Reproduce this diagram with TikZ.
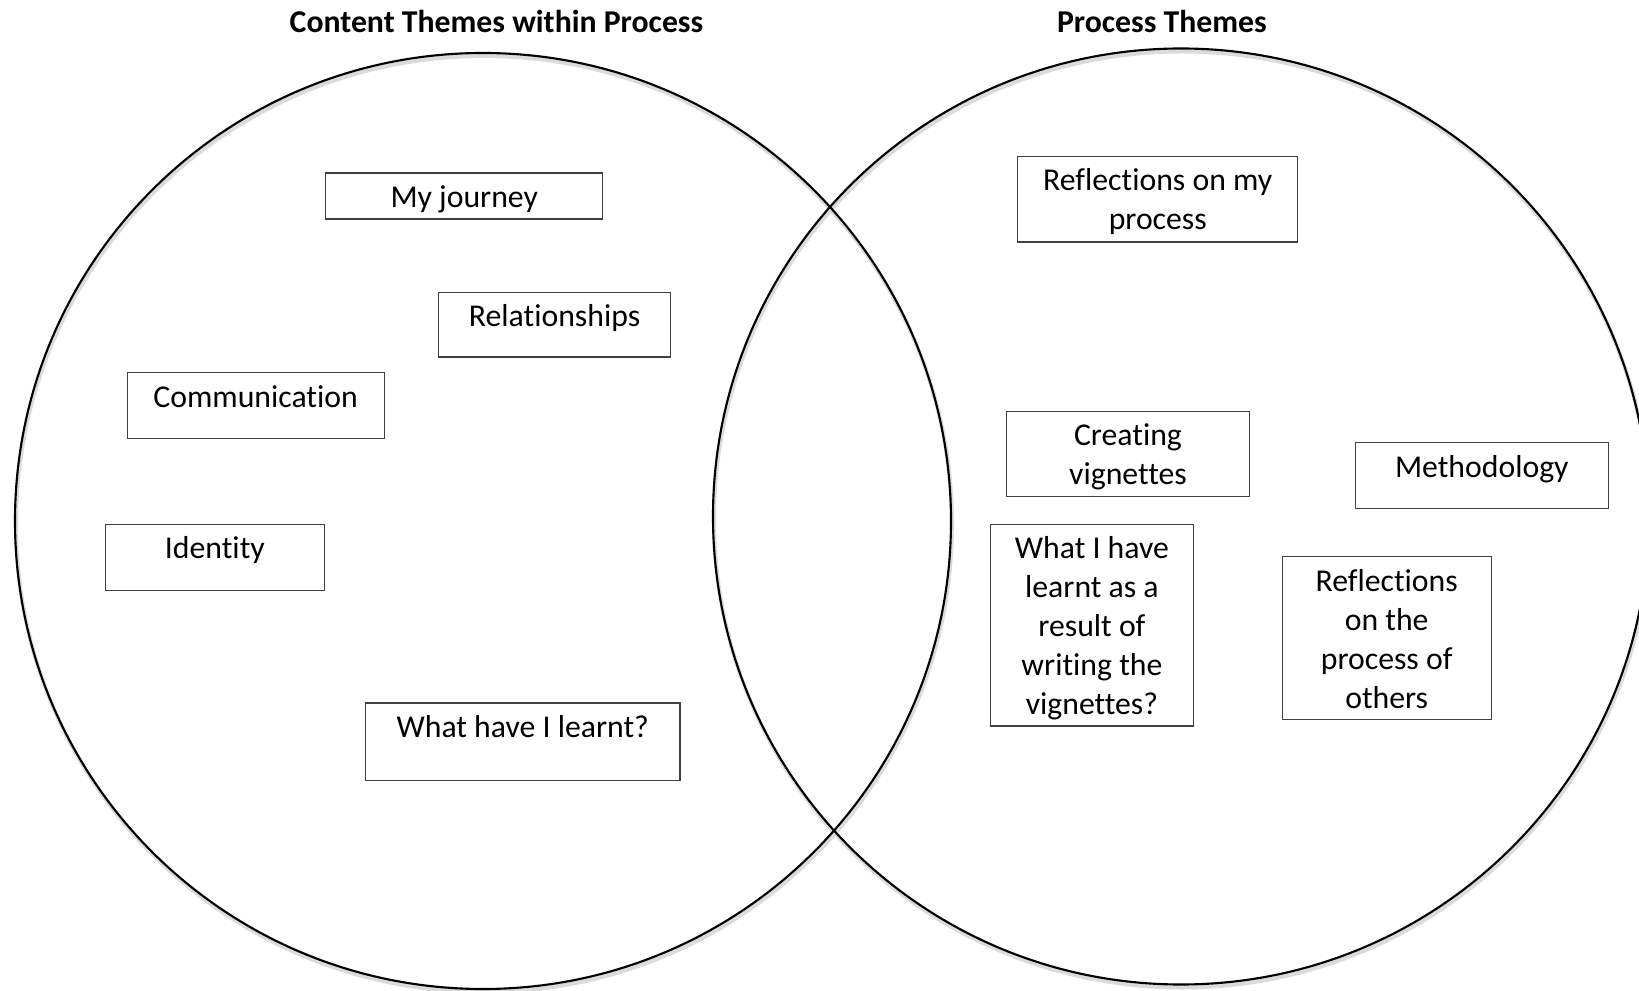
\documentclass[tikz,border=0pt]{standalone}
\usepackage{fontspec}
\setmainfont{Carlito}[Ligatures={NoCommon}]
\begin{document}
\begin{tikzpicture}[x=0.4pt, y=-0.4pt,
  ring/.style={draw=black, line width=0.85pt},
  ringshadow/.style={draw=black!14, line width=1.6pt},
  theme/.style={draw=black!75, line width=0.5pt, rectangle, inner sep=0pt, anchor=north west},
  heading/.style={font=\bfseries\fontsize{12.7}{15.6}\selectfont, inner sep=0pt}
]
% page frame
\useasboundingbox (0,0) rectangle (1639,991);
\clip (0,0) rectangle (1639,991);

% text box of given width and height (pt), text hung from the top
\newcommand{\themetext}[3]{\parbox[t][#2][t]{#1}{\centering\fontsize{12.7}{15.6}\selectfont\rule{0pt}{13.8pt}#3}}

% the two sets, with a soft shadow below each
\draw[ringshadow] (484,524) circle [radius=468];
\draw[ringshadow] (1182,519.5) circle [radius=468];
\draw[ring] (483,521) circle [radius=468];
\draw[ring] (1181,516.5) circle [radius=468];

% set headings
\node[heading] (hcontent) at (496.5,21) {Content Themes within Process};
\node[heading] (hprocess) at (1162,21) {Process Themes};

% content themes
\node[theme] (journey) at (325.1,172.5) {\themetext{110.8pt}{18.4pt}{My journey}};
\node[theme] (relations) at (438,291.6) {\themetext{92.8pt}{25.96pt}{Relationships}};
\node[theme] (comm) at (126.5,372.1) {\themetext{102.8pt}{26.36pt}{Communication}};
\node[theme] (identity) at (104.5,523.7) {\themetext{87.8pt}{26.36pt}{Identity}};
\node[theme] (learnt) at (364.8,702.4) {\themetext{125.84pt}{30.96pt}{What have I learnt?}};

% process themes
\node[theme] (reflmy) at (1017.1,155.7) {\themetext{112.04pt}{34.32pt}{Reflections on my\\process}};
\node[theme] (creating) at (1005.6,410.8) {\themetext{97.4pt}{33.88pt}{Creating\\vignettes}};
\node[theme] (method) at (1354.7,442.2) {\themetext{101.2pt}{26.32pt}{Methodology}};
\node[theme] (writing) at (989.9,523.7) {\themetext{81.12pt}{80.68pt}{What I have\\learnt as a\\result of\\writing the\\vignettes?}};
\node[theme] (others) at (1281.5,556.1) {\themetext{83.64pt}{65.24pt}{Reflections\\on the\\process of\\others}};
\end{tikzpicture}
\end{document}
